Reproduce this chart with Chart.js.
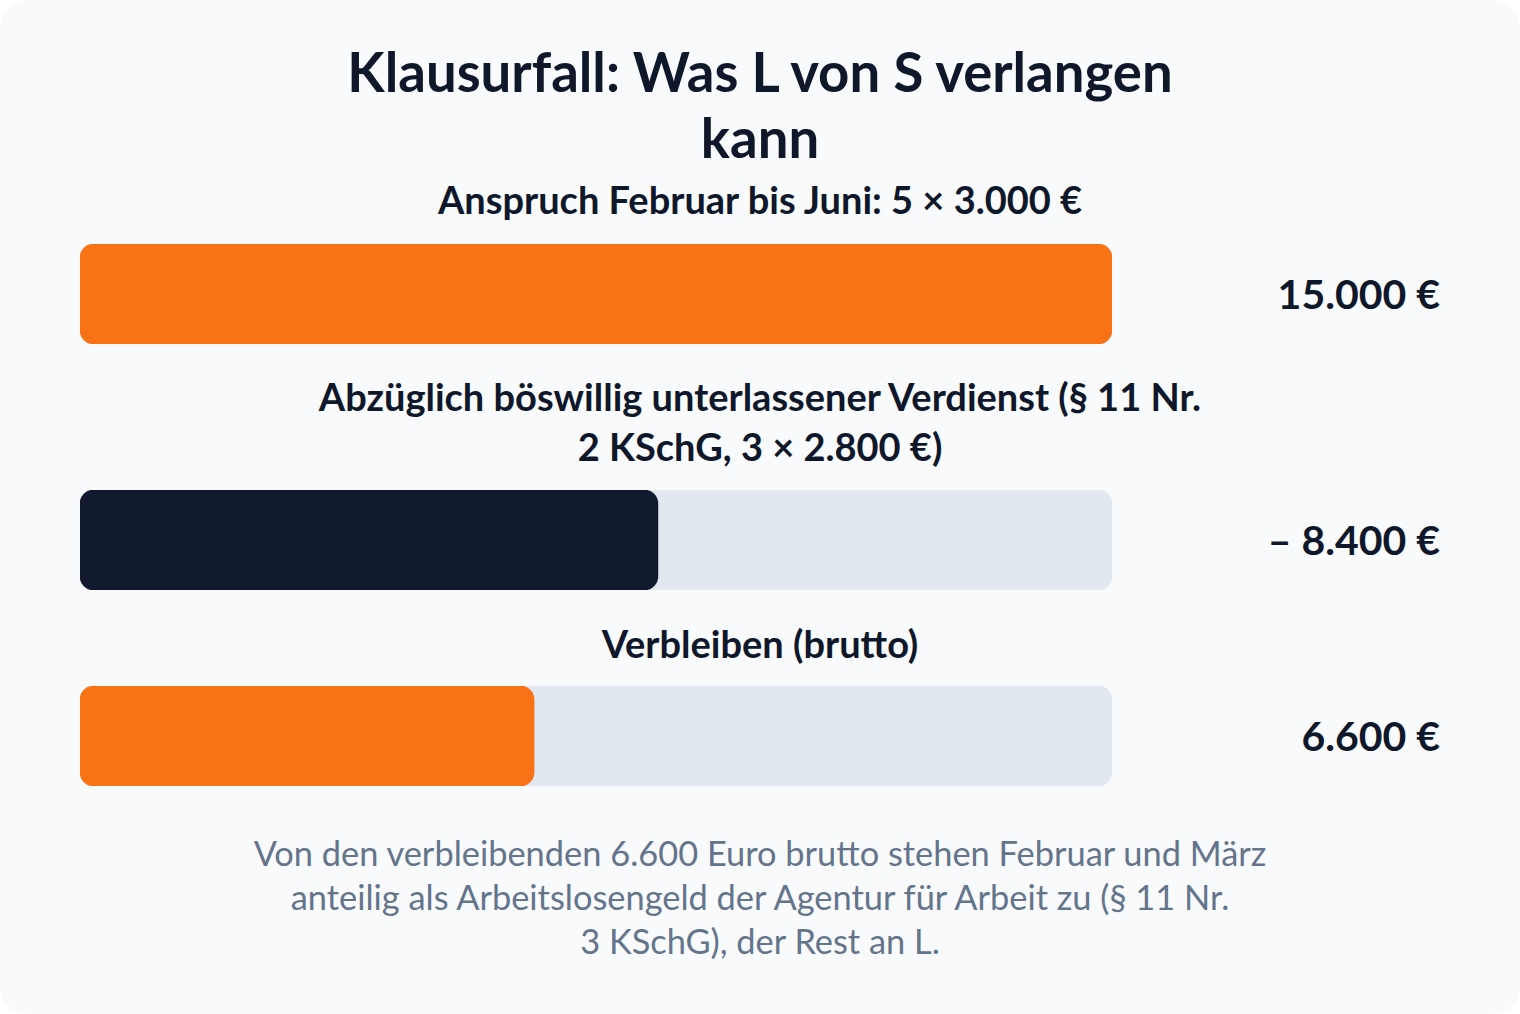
<!DOCTYPE html>
<html lang="de">
<head>
<meta charset="utf-8">
<title>Klausurfall: Was L von S verlangen kann</title>
<script src="https://cdn.jsdelivr.net/npm/chart.js@4.4.1/dist/chart.umd.min.js"></script>
<style>
  html, body { margin: 0; padding: 0; background: #ffffff; }
  body { width: 1520px; height: 1014px; overflow: hidden; font-family: Lato, "Noto Sans", sans-serif; }
  #card { position: absolute; left: 0; top: 0; width: 1520px; height: 1014px; background: #f8fafc; border-radius: 28px; }
  .title { position: absolute; left: 0; width: 1520px; top: 38px; text-align: center; font-weight: 700; font-size: 54.5px; line-height: 66px; color: #0f172a; }
  .label { position: absolute; left: 0; width: 1520px; text-align: center; font-weight: 700; font-size: 38px; line-height: 50px; color: #0f172a; }
  .value { position: absolute; right: 80px; text-align: right; font-weight: 700; font-size: 41px; line-height: 42px; color: #0f172a; white-space: nowrap; }
  .barbox { position: absolute; left: 80px; width: 1032px; height: 100px; }
  .note { position: absolute; left: 0; width: 1520px; top: 830.5px; text-align: center; font-size: 34.4px; line-height: 44px; color: #64748b; }
  .line { display: block; white-space: nowrap; }
</style>
</head>
<body>
<div id="card">
  <div class="title" id="title"></div>
  <div id="rows"></div>
  <div class="note" id="note"></div>
</div>
<script>
// ---- data ----
const titleLines = ['Klausurfall: Was L von S verlangen', 'kann'];
const categoryLines = [
  ['Anspruch Februar bis Juni: 5 × 3.000 €'],
  ['Abzüglich böswillig unterlassener Verdienst (§ 11 Nr.', '2 KSchG, 3 × 2.800 €)'],
  ['Verbleiben (brutto)']
];
const values = [15000, 8400, 6600];
const valueSigns = ['', '– ', ''];
const scaleMax = 15000;
const noteLines = [
  'Von den verbleibenden 6.600 Euro brutto stehen Februar und März',
  'anteilig als Arbeitslosengeld der Agentur für Arbeit zu (§ 11 Nr.',
  '3 KSchG), der Rest an L.'
];

// ---- styles / layout ----
const barColors = ['#f97316', '#111a2e', '#f97316'];
const trackColor = '#e2e8f0';
const labelTops = [174.3, 371.3, 618.3];
const barTops = [244, 490, 686];

function fmt(n) {
  return String(n).replace(/\B(?=(\d{3})+(?!\d))/g, '.') + ' €';
}
function lines(el, arr) {
  arr.forEach(t => { const s = document.createElement('span'); s.className = 'line'; s.textContent = t; el.appendChild(s); });
}

lines(document.getElementById('title'), titleLines);
lines(document.getElementById('note'), noteLines);

const rows = document.getElementById('rows');
categoryLines.forEach((cat, i) => {
  const lab = document.createElement('div');
  lab.className = 'label';
  lab.style.top = labelTops[i] + 'px';
  lines(lab, cat);
  rows.appendChild(lab);

  const box = document.createElement('div');
  box.className = 'barbox';
  box.style.top = barTops[i] + 'px';
  const cv = document.createElement('canvas');
  cv.width = 1032; cv.height = 100;
  box.appendChild(cv);
  rows.appendChild(box);

  const val = document.createElement('div');
  val.className = 'value';
  val.style.top = (barTops[i] + 29) + 'px';
  val.textContent = valueSigns[i] + fmt(values[i]);
  rows.appendChild(val);

  new Chart(cv, {
    type: 'bar',
    data: {
      labels: [cat.join(' ')],
      datasets: [
        { label: 'Wert', data: [values[i]], backgroundColor: barColors[i], borderRadius: 14, borderSkipped: false, grouped: false, order: 1, barPercentage: 1, categoryPercentage: 1 },
        { label: 'Skala', data: [scaleMax], backgroundColor: trackColor, borderRadius: 14, borderSkipped: false, grouped: false, order: 2, barPercentage: 1, categoryPercentage: 1 }
      ]
    },
    options: {
      indexAxis: 'y',
      responsive: false,
      animation: false,
      layout: { padding: 0 },
      plugins: { legend: { display: false }, tooltip: { enabled: false }, title: { display: false } },
      scales: {
        x: { display: false, min: 0, max: scaleMax },
        y: { display: false }
      }
    }
  });
});
</script>
</body>
</html>
